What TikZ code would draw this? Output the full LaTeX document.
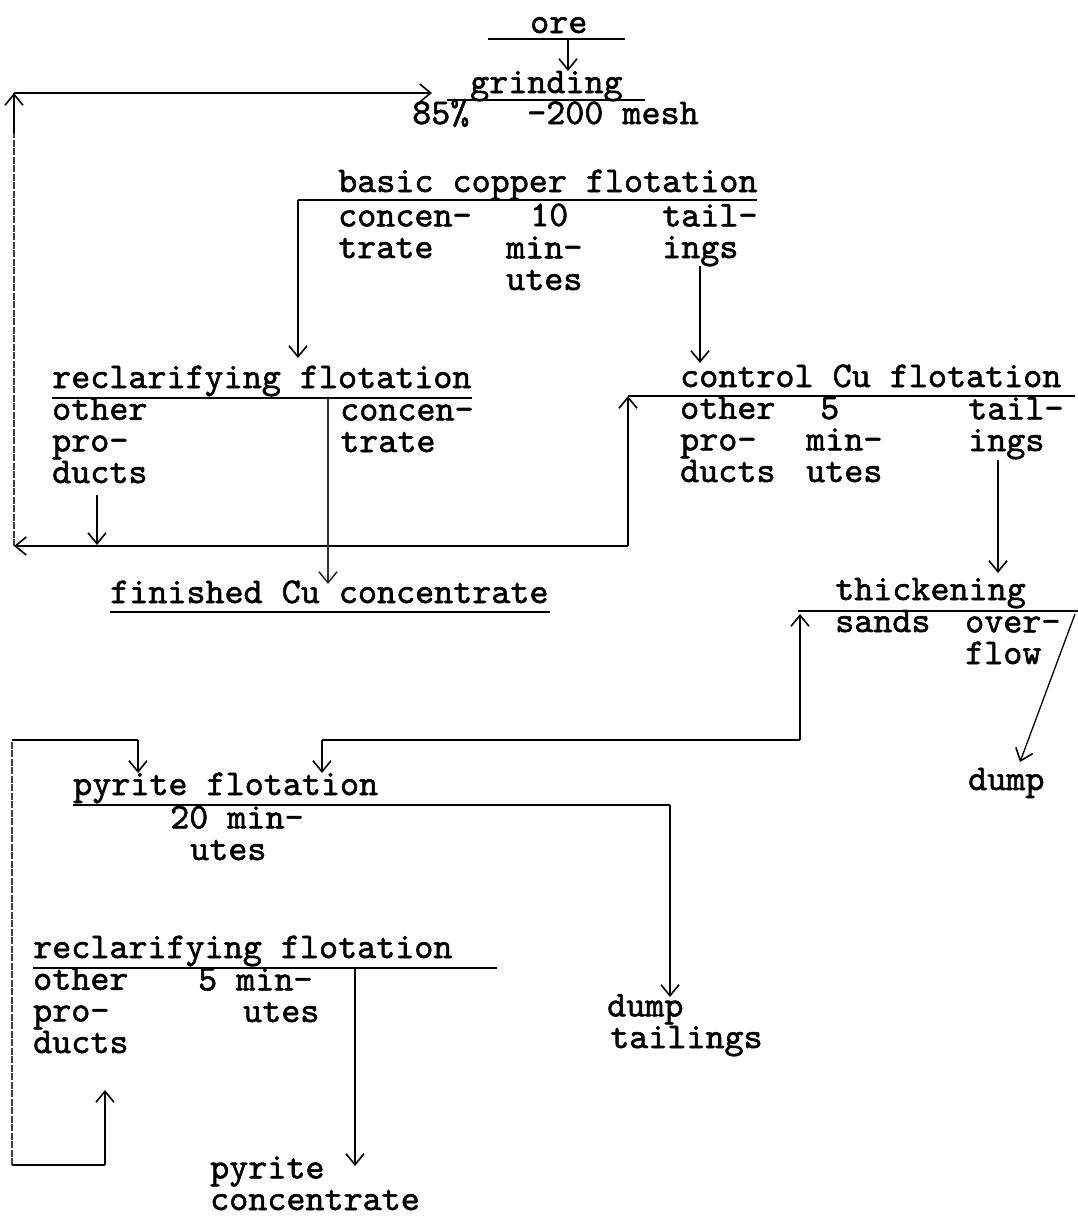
\documentclass[tikz,border=0pt]{standalone}
\usepackage{fontspec}
\newfontfamily\tw{lmmono10-regular.otf}[FakeBold=1.5]
\usetikzlibrary{arrows.meta}
\begin{document}
\begin{tikzpicture}[x=1pt,y=-1pt,
  lbl/.style={inner sep=0pt,anchor=base west,align=left,font=\fontsize{36.3}{31.6}\selectfont\tw},
  ul/.style={line width=1.6pt},
  flow/.style={line width=1.3pt,-{Straight Barb[length=11pt,width=18pt,line width=1.6pt]}},
  faint/.style={line width=1.3pt,black!75,dash pattern=on 7pt off 1.5pt},
  wire/.style={line width=1.3pt}]
\useasboundingbox (0,0) rectangle (1078,1218);
% ---- text nodes (multi-line nodes are anchored at the baseline of their last line)
\node[lbl] (ore) at (530,33) {ore};
\node[lbl] (grind) at (470,93) {grinding};
\node[lbl] (p85) at (412,124) {85\%};
\node[lbl] (mesh) at (527,124) {-200 mesh};
\node[lbl] (basic) at (338,192) {basic copper flotation};
\node[lbl] (bc) at (338,258) {concen-\\trate};
\node[lbl] (bm1) at (530,226) {10};
\node[lbl] (bm) at (506,290) {min-\\utes};
\node[lbl] (bt) at (662,258) {tail-\\ings};
\node[lbl] (recl) at (52,388) {reclarifying flotation};
\node[lbl] (ro) at (52,483) {other\\pro-\\ducts};
\node[lbl] (rc) at (340,452) {concen-\\trate};
\node[lbl] (fin) at (110,603) {finished Cu concentrate};
\node[lbl] (ctrl) at (680,387) {control Cu flotation};
\node[lbl] (co) at (680,482) {other\\pro-\\ducts};
\node[lbl] (cm1) at (820,419) {5};
\node[lbl] (cm) at (806,482) {min-\\utes};
\node[lbl] (ct) at (968,451) {tail-\\ings};
\node[lbl] (thick) at (835,600) {thickening};
\node[lbl] (sands) at (835,632) {sands};
\node[lbl] (ov) at (965,664) {over-\\flow};
\node[lbl] (dump1) at (968,790) {dump};
\node[lbl] (pyr) at (73,795) {pyrite flotation};
\node[lbl] (pm) at (170,860) {20 min-\\\hspace*{20pt}utes};
\node[lbl] (recl2) at (33,958) {reclarifying flotation};
\node[lbl] (qo) at (33,1053) {other\\pro-\\ducts};
\node[lbl] (qm) at (198,1022) {5 min-\\\hspace*{45pt}utes};
\node[lbl] (dt) at (607,1048) {dump\\\hspace*{3pt}tailings};
\node[lbl] (pc) at (210,1210) {pyrite\\concentrate};
% ---- coordinates
\coordinate (oreL) at (488,39); \coordinate (oreR) at (625,39);
\coordinate (oreA) at (568,39); \coordinate (grT) at (568,71);
\coordinate (grL) at (447,100); \coordinate (grR) at (645,100);
\coordinate (loopTL) at (14,93); \coordinate (loopTR) at (432,93);
\coordinate (loopBL) at (14,546); \coordinate (loopBR) at (628,546);
\coordinate (ctrlIn) at (628,396);
\coordinate (bL) at (298,200); \coordinate (bR) at (757,200);
\coordinate (bLd) at (298,358);
\coordinate (bT) at (700,266); \coordinate (bTd) at (700,363);
\coordinate (rL) at (52,398); \coordinate (rR) at (472,398);
\coordinate (rC) at (328,398); \coordinate (rCd) at (328,584);
\coordinate (rO) at (97,495); \coordinate (rOd) at (97,545);
\coordinate (fL) at (110,612); \coordinate (fR) at (550,612);
\coordinate (cR) at (1075,396);
\coordinate (cT) at (998,460); \coordinate (cTd) at (998,573);
\coordinate (tL) at (798,611); \coordinate (tR) at (1078,611);
\coordinate (tS) at (800,740); \coordinate (tSu) at (800,614);
\coordinate (pIn) at (322,740); \coordinate (pInd) at (322,773);
\coordinate (ovT) at (1075,614); \coordinate (ovD) at (1020,762);
\coordinate (l2T) at (12,740); \coordinate (l2Tr) at (138,740); \coordinate (l2Td) at (138,773);
\coordinate (l2B) at (12,1165); \coordinate (l2Br) at (105,1165); \coordinate (l2Bu) at (105,1090);
\coordinate (pL) at (73,805); \coordinate (pR) at (670,805); \coordinate (pRd) at (670,997);
\coordinate (qL) at (33,968); \coordinate (qR) at (497,968);
\coordinate (qC) at (355,968); \coordinate (qCd) at (355,1166);
% ---- underlines
\draw[ul] (oreL) -- (oreR);
\draw[ul] (grL) -- (grR);
\draw[ul] (bL) -- (bR);
\draw[ul] (rL) -- (rR);
\draw[ul] (fL) -- (fR);
\draw[ul] (ctrlIn) -- (cR);
\draw[ul] (tL) -- (tR);
\draw[ul] (pL) -- (pR);
\draw[ul] (qL) -- (qR);
% ---- flows
\draw[flow] (oreA) -- (grT);
\draw[faint] (loopBL) -- (loopTL);
\draw[flow] (loopTL) ++(0,40) -- (loopTL);
\draw[flow] (loopTL) -- (loopTR);
\draw[flow] (loopBR) -- (loopBL);
\draw[flow] (loopBR) -- (ctrlIn);
\draw[flow] (bL) -- (bLd);
\draw[flow] (bT) -- (bTd);
\draw[flow,black!80] (rC) -- (rCd);
\draw[flow] (rO) -- (rOd);
\draw[flow] (cT) -- (cTd);
\draw[flow] (tS) -- (tSu);
\draw[wire] (tS) -- (pIn);
\draw[flow] (pIn) -- (pInd);
\draw[flow] (ovT) -- (ovD);
\draw[faint] (l2B) -- (l2T);
\draw[wire] (l2T) -- (l2Tr);
\draw[flow] (l2Tr) -- (l2Td);
\draw[wire] (l2B) -- (l2Br);
\draw[flow] (l2Br) -- (l2Bu);
\draw[flow] (pR) -- (pRd);
\draw[flow] (qC) -- (qCd);
\end{tikzpicture}
\end{document}
